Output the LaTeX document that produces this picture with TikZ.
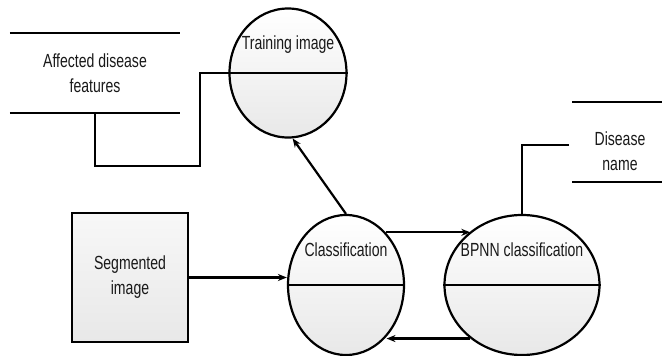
\documentclass[tikz,border=0pt]{standalone}
\usepackage{fontspec}
\setmainfont{Liberation Sans}[FakeStretch=0.74]
\usetikzlibrary{arrows.meta, positioning, shapes.geometric, calc}

\begin{document}
\begin{tikzpicture}[x=1pt, y=-1pt, font=\fontsize{19}{25}\selectfont,
   every node/.style={text=black!90, align=center, inner sep=0pt},
   proc/.style={draw, ellipse, line width=2.2pt, top color=white, bottom color=black!9},
   box/.style={draw, line width=2.2pt, top color=black!3, bottom color=black!9},
   store/.style={minimum width=#1, minimum height=80pt},
   conn/.style={draw, line width=2.2pt},
   flow/.style={conn, -{Stealth[length=9pt, width=7pt]}}]
  \useasboundingbox (0,0) rectangle (662,356);

  % processes
  \node[proc, minimum width=117pt, minimum height=129pt] (train) at (288,73) {};
  \node[proc, minimum width=116pt, minimum height=140pt] (classif) at (346,285) {};
  \node[proc, minimum width=155pt, minimum height=140pt] (bpnn) at (522,285) {};
  \foreach \p in {train, classif, bpnn}
    \draw[conn] (\p.west) -- (\p.east);
  \node (traintxt) at (288,45) {Training image};
  \node (classiftxt) at (346,250) {Classification};
  \node (bpnntxt) at (522,250) {BPNN classification};

  % entity and data stores
  \node[box, minimum width=116pt, minimum height=129pt] (seg) at (130,277.5) {Segmented\\image};
  \node[store=170pt] (feat) at (95,73) {Affected disease\\features};
  \node[store=97pt] (dname) at (621,142) {};
  \node (dnametxt) at (620,151) {Disease\\name};
  \foreach \s in {feat, dname} {
    \draw[conn] (\s.north west) -- (\s.north east);
    \draw[conn] (\s.south west) -- (\s.south east);
  }

  % flows
  \draw[flow] (seg.east) -- (seg.east -| classif.west);
  \draw[flow] (classif.north) -- (train.274);
  \draw[flow] (classif.53) -- (classif.53 -| bpnn.134);
  \draw[flow] (bpnn.226) -- (bpnn.226 -| classif.308);
  \draw[conn] (feat.south) |- ++(105,53) |- (train.west);
  \coordinate (dtap) at (569,145);
  \draw[conn] (dtap) -| (bpnn.north);
\end{tikzpicture}
\end{document}
